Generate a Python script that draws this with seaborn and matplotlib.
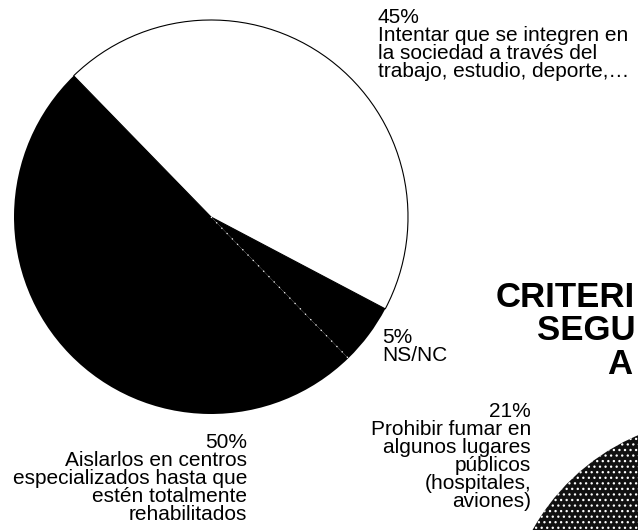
import numpy as np
import matplotlib
matplotlib.use("Agg")
import matplotlib.pyplot as plt
import seaborn as sns

# %% data
main_shares = [45, 5, 50]
main_labels = [
    "45%\nIntentar que se integren en\nla sociedad a través del\ntrabajo, estudio, deporte,…",
    "5%\nNS/NC",
    "50%\nAislarlos en centros\nespecializados hasta que\nestén totalmente\nrehabilitados",
]
main_colors = ["white", "black", "black"]

second_shares = [21, 79]
second_label = "21%\nProhibir fumar en\nalgunos lugares\npúblicos\n(hospitales,\naviones)"

title_lines = ["CRITERI", "SEGU", "A"]

# %% style
sns.set_style("white")
plt.rcParams["font.family"] = ["Liberation Sans", "DejaVu Sans"]
plt.rcParams["hatch.linewidth"] = 0.9
plt.rcParams["hatch.color"] = "white"

W, H = 638, 530
fig = plt.figure(figsize=(W / 100, H / 100), dpi=100)
ax = fig.add_axes([0, 0, 1, 1])
ax.set_xlim(0, W)
ax.set_ylim(0, H)
ax.set_aspect("equal")
ax.axis("off")

# main pie (pixel layout, y measured from top of picture)
c1 = (211, H - 217)
r1 = 197
start1 = 134.2
wedges, _ = ax.pie(main_shares, colors=main_colors, startangle=start1,
                   counterclock=False, center=c1, radius=r1,
                   wedgeprops=dict(edgecolor="black", linewidth=0.8))
wedges[2].set_edgecolor("none")
wedges[1].set_edgecolor("none")

# dotted white split between the two black slices
ang = np.radians(start1 - 360 * sum(main_shares[:2]) / sum(main_shares))
ax.plot([c1[0], c1[0] + r1 * np.cos(ang)], [c1[1], c1[1] + r1 * np.sin(ang)],
        color="white", lw=0.9, ls=(0, (1, 5)))

# second (cut-off) pie, stippled
c2 = (723, H - 636)
r2 = 218
w2, _ = ax.pie(second_shares, colors=["#111111", "#111111"], startangle=110,
               center=c2, radius=r2,
               wedgeprops=dict(edgecolor="white", linewidth=0, hatch="..."))
ax.set_xlim(0, W)
ax.set_ylim(0, H)

txt = dict(fontsize=15, color="black", linespacing=0.93)
ax.text(378, H - 8, main_labels[0], ha="left", va="top", **txt)
ax.text(382, H - 328, main_labels[1], ha="left", va="top", **txt)
ax.text(247, H - 433, main_labels[2], ha="right", va="top", multialignment="right", **txt)
ax.text(531, H - 402, second_label, ha="right", va="top", multialignment="right", **txt)

title_pos = [(496, 281), (537, 314), (607, 348)]
for s, (x, y) in zip(title_lines, title_pos):
    ax.text(x, H - y, s, ha="left", va="top", fontsize=25, fontweight="bold",
            color="black")

fig.savefig("out.png", dpi=100)
